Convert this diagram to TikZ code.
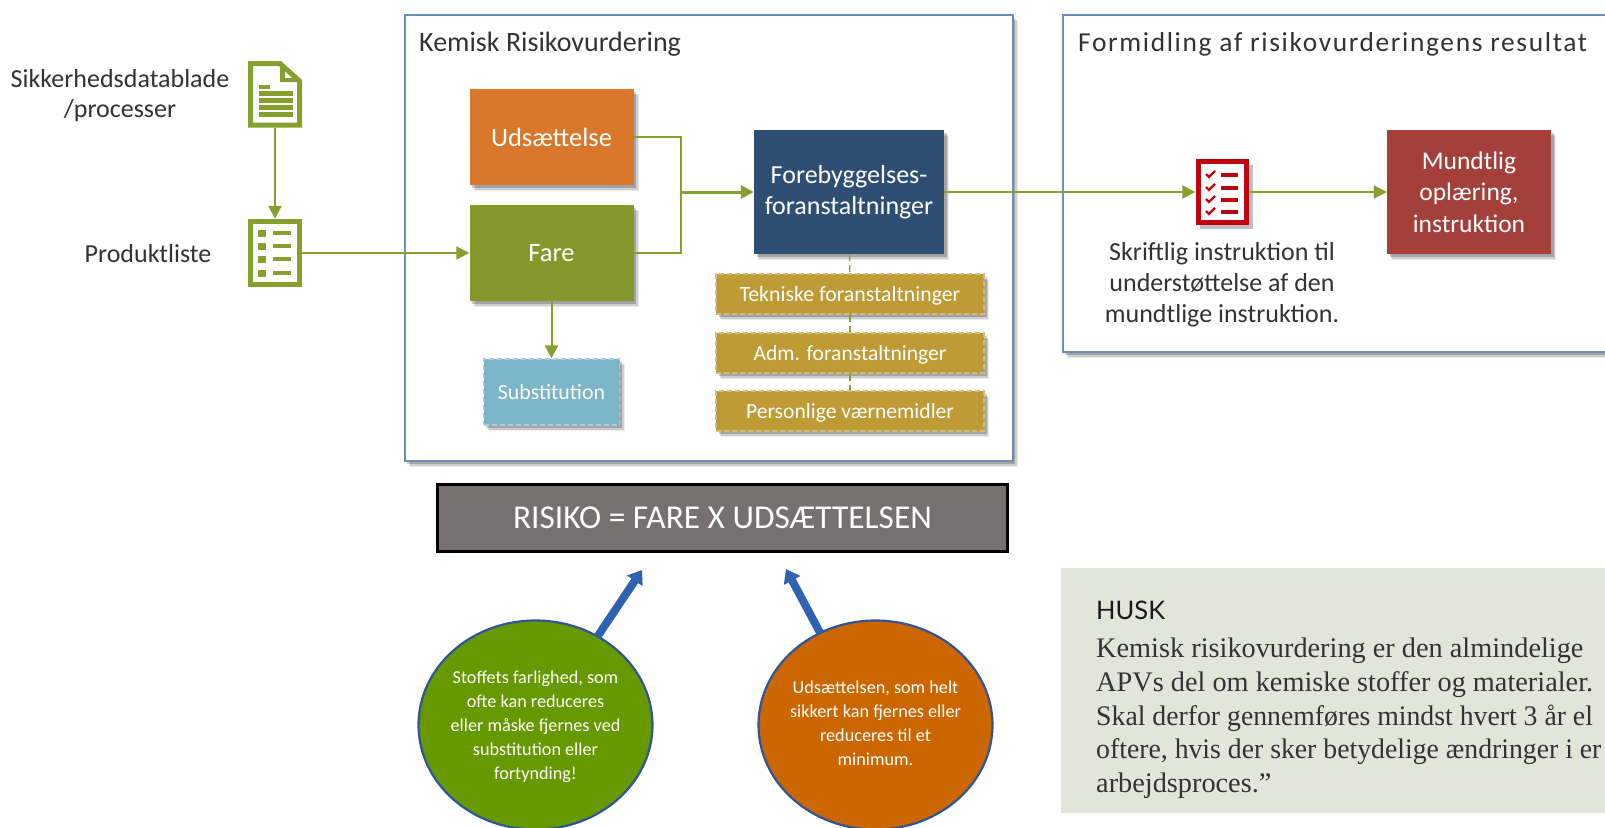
\documentclass[tikz,border=0pt]{standalone}
\usepackage{graphicx}
\usepackage{fontspec}
\setmainfont{Carlito}
\newfontfamily\huskhead{Lato}
\newfontfamily\huskbody{Liberation Serif}
\usetikzlibrary{shapes.geometric,shadows,arrows.meta,positioning}
\definecolor{grn}{HTML}{85A02F}
\definecolor{cfare}{HTML}{84992C}
\definecolor{cuds}{HTML}{D9782A}
\definecolor{cnavy}{HTML}{2E4F73}
\definecolor{cgold}{HTML}{BF9B36}
\definecolor{cteal}{HTML}{7AB5C8}
\definecolor{cred}{HTML}{A53F39}
\definecolor{cicon}{HTML}{C00510}
\definecolor{cgray}{HTML}{767170}
\definecolor{cgc}{HTML}{669900}
\definecolor{coc}{HTML}{CC6600}
\definecolor{cring}{HTML}{2F5597}
\definecolor{carrow}{HTML}{2F62B0}
\definecolor{chusk}{HTML}{E1E5DA}
\definecolor{cframe}{HTML}{6A90BA}
\definecolor{ctext}{HTML}{333333}
\newcommand{\fs}[2]{\fontsize{#1}{#2}\selectfont}
\newcommand{\lowered}[1]{\raisebox{-2pt}[15pt][5pt]{#1}}
\tikzset{
  softshadow/.style={
    drop shadow={shadow xshift=5pt,shadow yshift=-6pt,fill=black,opacity=.08},
    drop shadow={shadow xshift=4pt,shadow yshift=-5pt,fill=black,opacity=.12},
    drop shadow={shadow xshift=2.5pt,shadow yshift=-3pt,fill=black,opacity=.2}},
  frame/.style={draw=cframe,line width=1.8pt,fill=white,softshadow,inner sep=0pt,anchor=north west},
  block/.style={fill=#1,softshadow,text=white,inner sep=0pt,align=center},
  dashblock/.style={block=#1,draw=white!35!#1,dash pattern=on 5pt off 3pt,line width=1.3pt},
  conn/.style={draw=grn,line width=2pt},
  arr/.style={conn,-{Triangle[length=13pt,width=13pt]}},
  dashconn/.style={draw=grn,line width=1.2pt,dash pattern=on 7pt off 4pt},
  icon/.style={inner sep=0pt,minimum width=54pt,minimum height=67pt},
  label/.style={text=ctext,align=center,inner sep=0pt},
  bubble/.style={ellipse,draw=cring,line width=2.2pt,inner sep=0pt,outer sep=0pt,minimum width=234pt,minimum height=209pt},
  bubbletext/.style={text=white,align=center,inner sep=0pt,font=\fs{18.2}{24}},
  bluearr/.style={draw=carrow,line width=8pt,-{Triangle[length=13pt,width=18pt]}},
}
\begin{document}
\begin{tikzpicture}[x=1pt,y=-1pt]
\clip (0,0) rectangle (1605,827);
\fill[white] (0,0) rectangle (1605,827);
% frames
\node[frame,minimum width=608pt,minimum height=446pt] (main) at (404,14) {};
\node[frame,minimum width=570pt,minimum height=337pt] (right) at (1062,14) {};
\node[label,anchor=west] (t1) at (419,44.5) {\fs{28}{32}Kemisk Risikovurdering};
\node[label,anchor=west] (t2) at (1078,44.5) {\addfontfeature{LetterSpace=6}\fs{27.4}{32}Formidling af risikovurderingens resultat};
% blocks
\node[block=cuds,minimum width=164pt,minimum height=96pt,font=\fs{26.5}{30}] (uds) at (551.5,137) {Udsættelse};
\node[block=cfare,minimum width=164pt,minimum height=96pt,font=\fs{26.5}{30}] (fare) at (551.5,253) {Fare};
\node[block=cnavy,minimum width=190pt,minimum height=124pt,font=\fs{26}{31}] (fore) at (849,192) {Forebyggelses-\\foranstaltninger};
\node[dashblock=cgold,minimum width=268pt,minimum height=40pt,font=\fs{21.8}{24}] (tek) at (850,294) {\lowered{Tekniske foranstaltninger}};
\node[dashblock=cgold,minimum width=268pt,minimum height=40pt,font=\fs{21.6}{24}] (adm) at (850,353) {\lowered{Adm. foranstaltninger}};
\node[dashblock=cgold,minimum width=268pt,minimum height=40pt,font=\fs{21.6}{24}] (pv) at (850,411) {\lowered{Personlige værnemidler}};
\node[dashblock=cteal,minimum width=136pt,minimum height=66pt,font=\fs{21.8}{24}] (sub) at (551.5,392) {Substitution};
\node[block=cred,minimum width=164pt,minimum height=124pt,font=\fs{25.5}{31.5}] (mund) at (1469,192) {Mundtlig\\oplæring,\\instruktion};
% icons
\node[icon] (doc) at (275,94.5) {};
\draw[grn,line width=5pt,line join=miter] (250.5,63.5) -- (280,63.5) -- (299.5,81) -- (299.5,125) -- (250.5,125) -- cycle;
\fill[grn] (280,63) -- (280,82) -- (300,82) -- (296,78) -- (285,78) -- (285,70) -- cycle;
\fill[grn] (259,85) rectangle (270,89);
\foreach \yy in {91,98,105,112} \fill[grn] (259,\yy) rectangle (293,\yy+5);
\node[icon,minimum height=68pt] (lst) at (275,253) {};
\draw[grn,line width=5pt] (250.5,221.5) rectangle (299.5,284.5);
\foreach \yy in {233,246,259,273} {\fill[grn] (258,\yy-3.5) rectangle (266,\yy+3.5); \fill[grn] (273,\yy-1.8) rectangle (291,\yy+1.8);}
\node[icon,minimum height=66pt] (chk) at (1222.5,192) {};
\fill[black,opacity=.25] (1200,165) rectangle (1253,229);
\draw[cicon,line width=5pt,fill=white] (1198.5,161.5) rectangle (1246.5,222.5);
\foreach \yy in {175,188,200,212} {
  \draw[cicon,line width=2.2pt] (1206,\yy-1) -- (1209,\yy+2) -- (1215,\yy-4);
  \fill[cicon] (1221,\yy-1.6) rectangle (1238,\yy+1.6);}
% labels
\node[label,font=\fs{26}{30}] (l1) at (120,96) {Sikkerhedsdatablade\\/processer};
\node[label,font=\fs{26}{30}] (l2) at (148,254) {Produktliste};
\node[label,font=\fs{26}{31}] (l3) at (1222,285) {Skriftlig instruktion til\\understøttelse af den\\mundtlige instruktion.};
% connectors
\coordinate (j3) at (681,192);
\draw[arr] (doc) -- (lst);
\draw[arr] (lst) -- (fare);
\draw[conn] (uds) -| (j3);
\draw[conn] (fare) -| (j3);
\draw[arr,line width=3pt] (j3) -- (fore);
\draw[arr] (fore) -- (chk);
\draw[arr] (chk) -- (mund);
\draw[arr] (fare) -- (sub);
\draw[dashconn] (fore) -- (tek);
\draw[dashconn] (tek) -- (adm);
\draw[dashconn] (adm) -- (pv);
% risk
\node[fill=cgray,draw=black,line width=3pt,text=white,inner sep=0pt,minimum width=570pt,minimum height=67pt,font=\fs{33.4}{38}] (risk) at (722.5,517.5) {RISIKO = FARE X UDSÆTTELSEN};
% bubbles
\node[bubble,fill=cgc] (gc) at (535.5,725) {};
\node[bubbletext] (gct) at (535.5,727) {Stoffets farlighed, som\\ofte kan reduceres\\eller måske fjernes ved\\substitution eller\\fortynding!};
\node[bubble,fill=coc] (oc) at (875.5,725) {};
\node[bubbletext] (oct) at (875.5,723) {Udsættelsen, som helt\\sikkert kan fjernes eller\\reduceres til et\\minimum.};
\coordinate (a1) at (642,570);
\coordinate (a2) at (786,569);
\draw[bluearr] (gc.55) -- (a1);
\draw[bluearr] (oc.121) -- (a2);
% husk
\fill[chusk] (1061,568) rectangle (1605,813);
\node[anchor=base west,inner sep=0pt,text=black!90,font=\huskhead\fs{25.5}{28}] (hh) at (1096,619) {HUSK};
\node[anchor=north west,inner sep=0pt,align=left,text=black!80,font=\huskbody\fs{28.3}{33.7}] (hb) at (1096,638) {Kemisk risikovurdering er den almindelige\\APVs del om kemiske stoffer og materialer.\\\scalebox{.98}[1]{Skal derfor gennemføres mindst hvert 3 år el}\\\scalebox{.98}[1]{oftere, hvis der sker betydelige ændringer i er}\\arbejdsproces.”};
\end{tikzpicture}
\end{document}
